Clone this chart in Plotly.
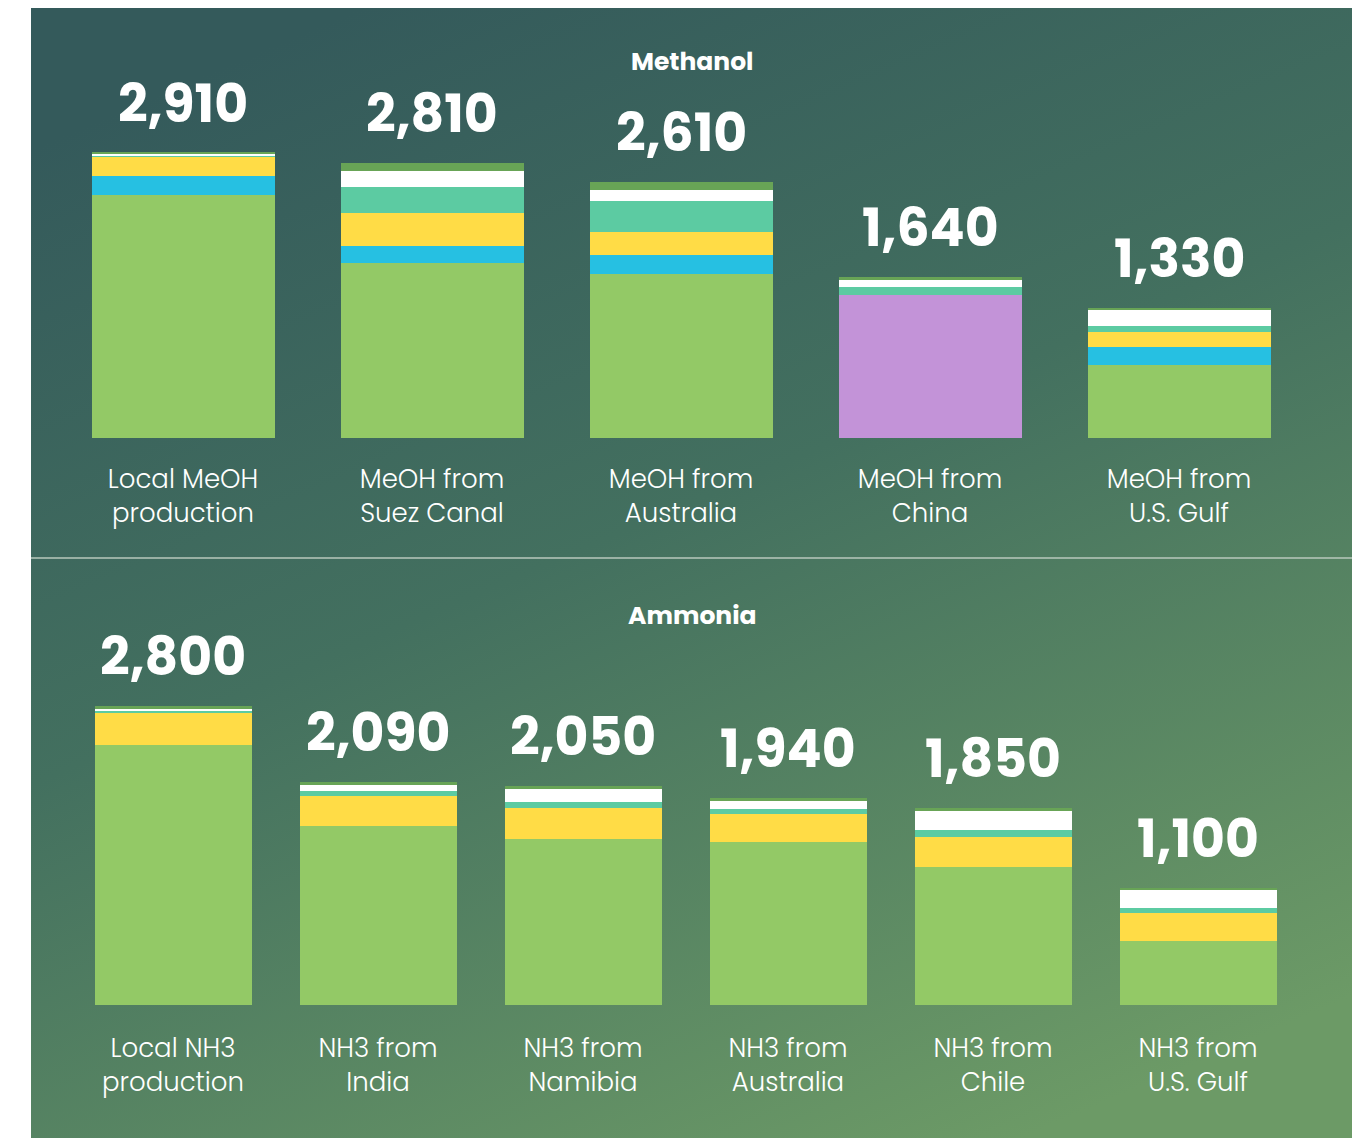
import base64
import plotly.graph_objects as go

# ---------------- data ----------------
meth_categories = ["Local MeOH<br>production", "MeOH from<br>Suez Canal", "MeOH from<br>Australia",
                   "MeOH from<br>China", "MeOH from<br>U.S. Gulf"]
meth_totals = [2910, 2810, 2610, 1640, 1330]
meth_production = [2475, 1790, 1671, 0, 745]
meth_production_china = [0, 0, 0, 1456, 0]
meth_blue = [195, 173, 194, 0, 186]
meth_yellow = [195, 337, 235, 0, 155]
meth_teal = [22, 265, 316, 82, 52]
meth_white = [12, 163, 112, 71, 172]
meth_top = [11, 82, 82, 31, 20]

nh3_categories = ["Local NH3<br>production", "NH3 from<br>India", "NH3 from<br>Namibia",
                  "NH3 from<br>Australia", "NH3 from<br>Chile", "NH3 from<br>U.S. Gulf"]
nh3_totals = [2800, 2090, 2050, 1940, 1850, 1100]
nh3_production = [2435, 1678, 1553, 1528, 1297, 603]
nh3_yellow = [309, 281, 291, 262, 281, 262]
nh3_teal = [16, 47, 56, 47, 66, 47]
nh3_white = [12, 56, 122, 75, 178, 169]
nh3_top = [28, 28, 28, 28, 28, 19]

panel_titles = ["Methanol", "Ammonia"]

# ---------------- styles ----------------
W, H = 1365, 1138
C_GREEN = "#93C966"
C_PURPLE = "#C393D8"
C_BLUE = "#26C0E2"
C_YELLOW = "#FFDC46"
C_TEAL = "#5CCBA2"
C_WHITE = "#FFFFFF"
C_TOP = "#68A456"
FONT = "Poppins, Inter, sans-serif"


def px_x(p):
    return p / W


def px_y(p):
    return 1 - p / H


fig = go.Figure()

meth_series = [
    (meth_production, C_GREEN), (meth_production_china, C_PURPLE), (meth_blue, C_BLUE),
    (meth_yellow, C_YELLOW), (meth_teal, C_TEAL), (meth_white, C_WHITE), (meth_top, C_TOP),
]
for vals, col in meth_series:
    fig.add_trace(go.Bar(x=meth_categories, y=vals, marker=dict(color=col, line=dict(width=0)),
                         width=0.735, xaxis="x", yaxis="y", hoverinfo="skip", showlegend=False))

nh3_series = [
    (nh3_production, C_GREEN), (nh3_yellow, C_YELLOW), (nh3_teal, C_TEAL),
    (nh3_white, C_WHITE), (nh3_top, C_TOP),
]
for vals, col in nh3_series:
    fig.add_trace(go.Bar(x=nh3_categories, y=vals, marker=dict(color=col, line=dict(width=0)),
                         width=0.766, xaxis="x2", yaxis="y2", hoverinfo="skip", showlegend=False))

annotations = []
for cat, tot in zip(meth_categories, meth_totals):
    annotations.append(dict(x=cat, y=tot, xref="x", yref="y", text=f"{tot:,}", showarrow=False,
                            yanchor="bottom", yshift=11,
                            font=dict(family=FONT, size=52, color="white", weight=700)))
for cat, tot in zip(nh3_categories, nh3_totals):
    annotations.append(dict(x=cat, y=tot, xref="x2", yref="y2", text=f"{tot:,}", showarrow=False,
                            yanchor="bottom", yshift=11,
                            font=dict(family=FONT, size=52, color="white", weight=700)))
for title, ypx in zip(panel_titles, [61, 615]):
    annotations.append(dict(x=px_x(692), y=px_y(ypx), xref="paper", yref="paper", text=title,
                            showarrow=False, xanchor="center", yanchor="middle",
                            font=dict(family=FONT, size=25, color="white", weight=700)))

# gradient background panel
svg = ('<svg xmlns="http://www.w3.org/2000/svg" width="1321" height="1130" viewBox="0 0 1321 1130" '
       'preserveAspectRatio="none"><defs><linearGradient id="g" x1="0.25" y1="0" x2="0.75" y2="1">'
       '<stop offset="0" stop-color="#345A5B"/><stop offset="0.45" stop-color="#43705F"/>'
       '<stop offset="1" stop-color="#6C9A66"/></linearGradient></defs>'
       '<rect width="1321" height="1130" fill="url(#g)"/></svg>')
src = "data:image/svg+xml;base64," + base64.b64encode(svg.encode()).decode()

tickfont = dict(family=FONT, size=26, color="white", weight=300)

fig.update_layout(
    width=W, height=H,
    margin=dict(l=0, r=0, t=0, b=0),
    paper_bgcolor="white", plot_bgcolor="rgba(0,0,0,0)",
    barmode="stack", bargap=0,
    showlegend=False,
    font=dict(family=FONT, color="white"),
    images=[dict(source=src, xref="paper", yref="paper", x=px_x(31), y=px_y(8),
                 sizex=1321 / W, sizey=1130 / H, sizing="stretch", xanchor="left", yanchor="top",
                 layer="below")],
    shapes=[dict(type="line", xref="paper", yref="paper", x0=px_x(31), x1=px_x(1352),
                 y0=px_y(558), y1=px_y(558), line=dict(color="#B9C9BD", width=1.5))],
    annotations=annotations,
    xaxis=dict(domain=[px_x(58.5), px_x(1303.5)], anchor="y", showgrid=False, zeroline=False,
               showline=False, ticks="", ticklabelstandoff=23, tickfont=tickfont),
    yaxis=dict(domain=[px_y(438), px_y(60)], range=[0, 378 / 0.098], visible=False),
    xaxis2=dict(domain=[px_x(70.5), px_x(1300.5)], anchor="y2", showgrid=False, zeroline=False,
                showline=False, ticks="", ticklabelstandoff=25, tickfont=tickfont),
    yaxis2=dict(domain=[px_y(1005), px_y(600)], range=[0, 405 / 0.1067], visible=False),
)

fig.write_html("out.html", config={"displayModeBar": False},
               post_script="document.body.style.margin='0';document.body.style.overflow='hidden';")
